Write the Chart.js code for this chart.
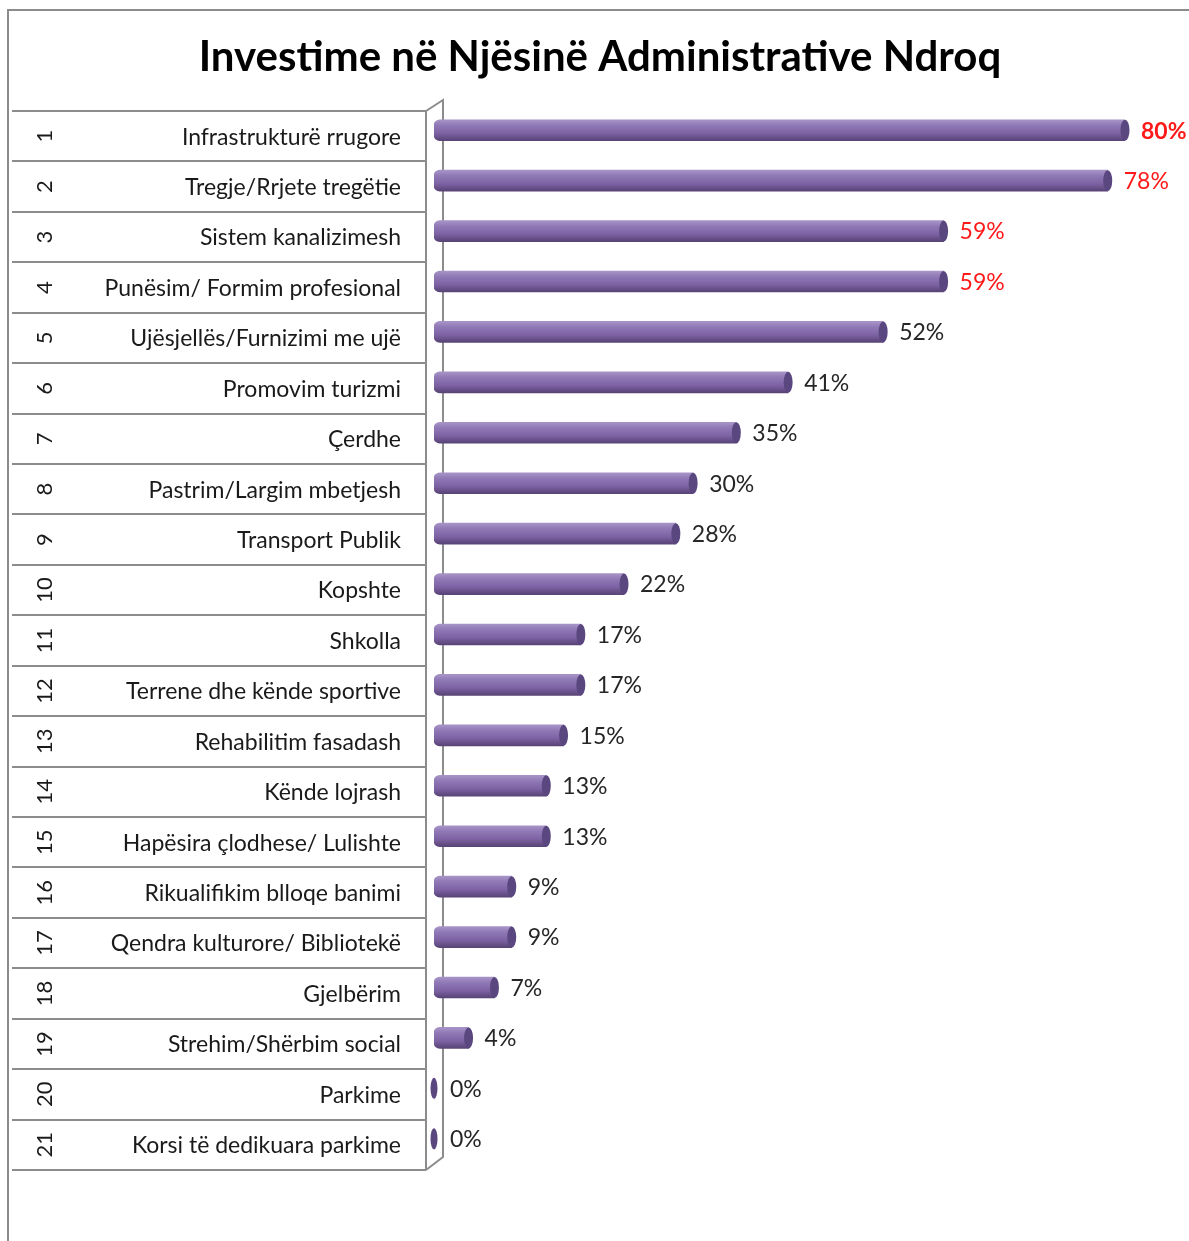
<!DOCTYPE html>
<html>
<head>
<meta charset="utf-8">
<title>Investime në Njësinë Administrative Ndroq</title>
<script src="https://cdn.jsdelivr.net/npm/chart.js@4.4.1/dist/chart.umd.min.js"></script>
<style>
  html, body { margin: 0; padding: 0; background: #fff; }
  #wrap { width: 1189px; height: 1241px; position: relative; }
</style>
</head>
<body>
<div id="wrap"><canvas id="investChart"></canvas></div>
<script>
// --- Data ---
const rowNumbers = ['1', '2', '3', '4', '5', '6', '7', '8', '9', '10', '11',
    '12', '13', '14', '15', '16', '17', '18', '19', '20', '21'];
const categories = [
    'Infrastrukturë rrugore',
    'Tregje/Rrjete tregëtie',
    'Sistem kanalizimesh',
    'Punësim/ Formim profesional',
    'Ujësjellës/Furnizimi me ujë',
    'Promovim turizmi',
    'Çerdhe',
    'Pastrim/Largim mbetjesh',
    'Transport Publik',
    'Kopshte',
    'Shkolla',
    'Terrene dhe kënde sportive',
    'Rehabilitim fasadash',
    'Kënde lojrash',
    'Hapësira çlodhese/ Lulishte',
    'Rikualifikim blloqe banimi',
    'Qendra kulturore/ Bibliotekë',
    'Gjelbërim',
    'Strehim/Shërbim social',
    'Parkime',
    'Korsi të dedikuara parkime'
];
const shares = [80, 78, 59, 59, 52, 41, 35, 30, 28, 22, 17, 17, 15, 13, 13, 9, 9, 7, 4, 0, 0];
const xTicks = { min: 0, max: 80 };

// --- Styling ---
const FONT = 'Lato, "Open Sans", sans-serif';
const LINE_GREY = '#8c8c8c';
const DEPTH = 6;            // 3-D shift between the bars and the label table
const HIGHLIGHT_ROWS = 4;   // top rows get red value labels

function barGradient(context) {
    const chart = context.chart;
    const y = chart.scales.y;
    const cy = y ? y.getPixelForValue(context.dataIndex) : NaN;
    if (!isFinite(cy)) return '#8064a2';
    const g = chart.ctx.createLinearGradient(0, cy - 10, 0, cy + 10);
    g.addColorStop(0, '#a692c6');
    g.addColorStop(0.25, '#9079b6');
    g.addColorStop(0.65, '#7d62a4');
    g.addColorStop(1, '#5a4578');
    return g;
}

// --- Outer frame ---
const framePlugin = {
    id: 'outerFrame',
    beforeDraw(chart) {
        const ctx = chart.ctx;
        ctx.save();
        ctx.strokeStyle = LINE_GREY;
        ctx.lineWidth = 2;
        ctx.beginPath();
        ctx.moveTo(8, chart.height);
        ctx.lineTo(8, 10);
        ctx.lineTo(chart.width, 10);
        ctx.stroke();
        ctx.restore();
    }
};

// --- Label table on the left (row number + category) ---
const tablePlugin = {
    id: 'labelTable',
    beforeDatasetsDraw(chart) {
        const ctx = chart.ctx;
        const y = chart.scales.y;
        const step = y.getPixelForValue(1) - y.getPixelForValue(0);
        const top = y.getPixelForValue(0) - step / 2 + DEPTH;
        const bottom = y.getPixelForValue(categories.length - 1) + step / 2 + DEPTH;
        const tableLeft = 12, tableRight = 426, wallX = 443;

        ctx.save();
        ctx.strokeStyle = LINE_GREY;
        ctx.lineWidth = 2;
        ctx.beginPath();
        for (let i = 0; i <= categories.length; i++) {
            const yy = Math.round(top + i * step);
            ctx.moveTo(tableLeft, yy);
            ctx.lineTo(tableRight, yy);
        }
        ctx.moveTo(tableRight, top);
        ctx.lineTo(tableRight, bottom);
        // depth edges + back wall
        ctx.moveTo(tableRight, top);
        ctx.lineTo(wallX, top - 11);
        ctx.lineTo(wallX, bottom - 13);
        ctx.lineTo(tableRight, bottom);
        ctx.stroke();

        ctx.fillStyle = '#1a1a1a';
        ctx.textBaseline = 'middle';
        categories.forEach((label, i) => {
            const cy = y.getPixelForValue(i) + DEPTH;
            ctx.font = '23px ' + FONT;
            ctx.textAlign = 'right';
            ctx.fillText(label, 401, cy + 1);

            ctx.save();
            ctx.translate(45, cy);
            ctx.rotate(-Math.PI / 2);
            ctx.textAlign = 'center';
            ctx.font = '22px ' + FONT;
            ctx.fillText(rowNumbers[i], 0, 0);
            ctx.restore();
        });
        ctx.restore();
    }
};

// --- Cylinder caps + value labels ---
const capsPlugin = {
    id: 'cylinderCaps',
    afterDatasetsDraw(chart) {
        const ctx = chart.ctx;
        const meta = chart.getDatasetMeta(0);
        ctx.save();
        meta.data.forEach((bar, i) => {
            const r = bar.height / 2;
            ctx.fillStyle = '#5b4780';
            ctx.beginPath();
            ctx.ellipse(bar.x, bar.y, shares[i] === 0 ? 3.5 : 4.5, r, 0, 0, Math.PI * 2);
            ctx.fill();

            const red = i < HIGHLIGHT_ROWS;
            ctx.fillStyle = red ? '#ff1a1a' : '#262626';
            ctx.font = (i === 0 ? 'bold ' : '') + '23px ' + FONT;
            ctx.textAlign = 'left';
            ctx.textBaseline = 'middle';
            ctx.fillText(shares[i] + '%', bar.x + 16, bar.y + 1);
        });
        ctx.restore();
    }
};

const investCtx = document.getElementById('investChart').getContext('2d');
const investChart = new Chart(investCtx, {
    type: 'bar',
    data: {
        labels: categories,
        datasets: [{
            data: shares,
            backgroundColor: barGradient,
            borderWidth: 0,
            borderSkipped: false,
            borderRadius: { topLeft: 6, bottomLeft: 6, topRight: 0, bottomRight: 0 },
            barThickness: 21
        }]
    },
    options: {
        indexAxis: 'y',
        responsive: true,
        maintainAspectRatio: false,
        animation: false,
        layout: {
            padding: { left: 75, right: 64, top: 10, bottom: 77 }
        },
        plugins: {
            legend: { display: false },
            tooltip: { enabled: false },
            title: {
                display: true,
                text: 'Investime në Njësinë Administrative Ndroq',
                color: '#000',
                font: { family: FONT, size: 42, weight: 'bold', lineHeight: 1.2 },
                padding: { top: 22, bottom: 22.6 }
            }
        },
        scales: {
            x: {
                display: false,
                min: xTicks.min,
                max: xTicks.max
            },
            y: {
                display: true,
                ticks: { display: false },
                grid: { display: false },
                border: { display: false },
                afterFit: function(scale) {
                    scale.width = 359;
                }
            }
        }
    },
    plugins: [framePlugin, tablePlugin, capsPlugin]
});
</script>
</body>
</html>
